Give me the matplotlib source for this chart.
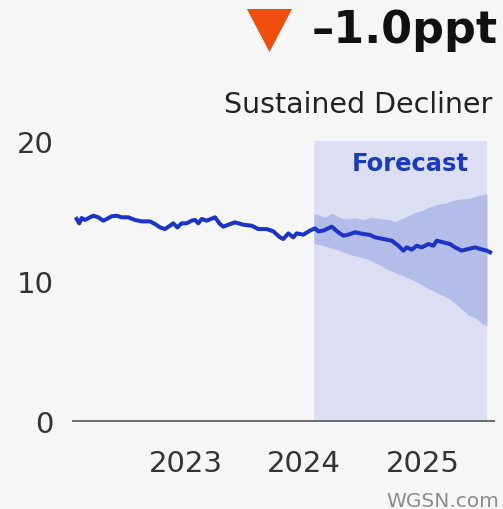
import matplotlib
matplotlib.use("Agg")
import matplotlib.pyplot as plt
from matplotlib.patches import Polygon

# ---- data ----
line_years = [2022.082, 2022.104, 2022.124, 2022.152, 2022.194, 2022.222, 2022.264, 2022.306,
              2022.335, 2022.377, 2022.419, 2022.462, 2022.517, 2022.574, 2022.630, 2022.700,
              2022.743, 2022.785, 2022.827, 2022.869, 2022.897, 2022.931, 2022.968, 2023.010,
              2023.052, 2023.080, 2023.108, 2023.137, 2023.179, 2023.249, 2023.291, 2023.319,
              2023.361, 2023.418, 2023.488, 2023.559, 2023.614, 2023.685, 2023.741, 2023.797,
              2023.825, 2023.868, 2023.910, 2023.938, 2023.994, 2024.051, 2024.093, 2024.121,
              2024.163, 2024.234, 2024.289, 2024.332, 2024.374, 2024.430, 2024.500, 2024.557,
              2024.599, 2024.669, 2024.740, 2024.796, 2024.838, 2024.867, 2024.909, 2024.951,
              2024.993, 2025.049, 2025.091, 2025.120, 2025.176, 2025.232, 2025.274, 2025.331,
              2025.387, 2025.443, 2025.485, 2025.542, 2025.570]
line_values = [14.43, 14.12, 14.50, 14.36, 14.55, 14.66, 14.55, 14.31,
               14.43, 14.62, 14.66, 14.55, 14.55, 14.36, 14.26, 14.26,
               14.07, 13.83, 13.71, 13.95, 14.12, 13.83, 14.12, 14.12,
               14.31, 14.36, 14.12, 14.43, 14.31, 14.55, 14.07, 13.88,
               14.02, 14.19, 14.02, 13.95, 13.71, 13.71, 13.55, 13.12,
               13.00, 13.40, 13.12, 13.40, 13.31, 13.60, 13.76, 13.55,
               13.60, 13.88, 13.48, 13.24, 13.31, 13.48, 13.36, 13.29,
               13.12, 13.00, 12.88, 12.52, 12.17, 12.40, 12.24, 12.52,
               12.40, 12.64, 12.52, 12.88, 12.76, 12.64, 12.40, 12.17,
               12.29, 12.40, 12.29, 12.17, 12.05]

band_years = [2024.084, 2024.130, 2024.177, 2024.234, 2024.290, 2024.346, 2024.430, 2024.500,
              2024.571, 2024.640, 2024.711, 2024.768, 2024.852, 2024.937, 2025.000, 2025.049,
              2025.133, 2025.190, 2025.246, 2025.331, 2025.387, 2025.457, 2025.500, 2025.544]
band_high = [14.80, 14.70, 14.55, 14.85, 14.60, 14.43, 14.50, 14.40,
             14.55, 14.45, 14.40, 14.25, 14.55, 14.90, 15.05, 15.26,
             15.50, 15.55, 15.74, 15.86, 15.90, 16.09, 16.15, 16.20]
band_low = [12.70, 12.60, 12.50, 12.35, 12.20, 12.00, 11.80, 11.65,
            11.45, 11.15, 10.80, 10.60, 10.30, 10.00, 9.70, 9.45,
            9.10, 8.90, 8.60, 8.00, 7.55, 7.30, 6.95, 6.80]

forecast_start = 2024.084
forecast_end = 2025.544
x_ticks = [2023, 2024, 2025]
y_ticks = [0, 10, 20]
change_label = "–1.0ppt"
trend_label = "Sustained Decliner"

# ---- style ----
W, H = 503, 510
BG = "#f6f6f6"
plt.rcParams['font.family'] = ['DejaVu Sans']

fig = plt.figure(figsize=(W / 100, H / 100), dpi=100, facecolor=BG)
ax = fig.add_axes([73 / W, 1 - 422 / H, (494 - 73) / W, (422 - 142) / H], facecolor=BG)

ax.axvspan(forecast_start, forecast_end, ymin=0, ymax=1, color="#dcdff3", lw=0, zorder=1)
ax.fill_between(band_years, band_low, band_high, color="#b4bcea", lw=0, zorder=2)
ax.plot(line_years, line_values, color="#1b34c7", lw=2.9, zorder=3, solid_joinstyle='round')

ax.set_xlim(2022.051, 2025.603)
ax.set_ylim(0, 20)
ax.set_xticks(x_ticks)
ax.set_xticklabels([str(t) for t in x_ticks])
ax.set_yticks(y_ticks)
ax.set_yticklabels([str(t) for t in y_ticks])
ax.tick_params(axis='both', length=0, labelsize=21, labelcolor="#333333")
ax.tick_params(axis='x', pad=20)
ax.tick_params(axis='y', pad=14)
for s in ['top', 'right', 'left']:
    ax.spines[s].set_visible(False)
ax.spines['bottom'].set_color("#6b6b6b")
ax.spines['bottom'].set_linewidth(1.4)
ax.spines['bottom'].set_zorder(4)

ax.text((forecast_start + forecast_end) / 2 + 0.08, 18.4, "Forecast", ha='center', va='center',
        fontsize=17.5, fontweight='bold', color="#1a3bbd", zorder=5)

# header
tri = Polygon([[247 / W, 1 - 10 / H], [292 / W, 1 - 10 / H], [269.5 / W, 1 - 53 / H]],
              closed=True, transform=fig.transFigure, facecolor="#f04e0c", edgecolor='none')
fig.add_artist(tri)
fig.text(498 / W, 1 - 43 / H, change_label, ha='right', va='baseline', fontsize=32,
         fontweight='bold', color="#111111")
fig.text(492 / W, 1 - 113 / H, trend_label, ha='right', va='baseline', fontsize=20.5,
         color="#222222")
fig.text(386 / W, 1 - 507 / H, "WGSN.com", ha='left', va='baseline', fontsize=14.5,
         color="#8c8c8c")

fig.savefig("out.png", dpi=100, facecolor=BG)
